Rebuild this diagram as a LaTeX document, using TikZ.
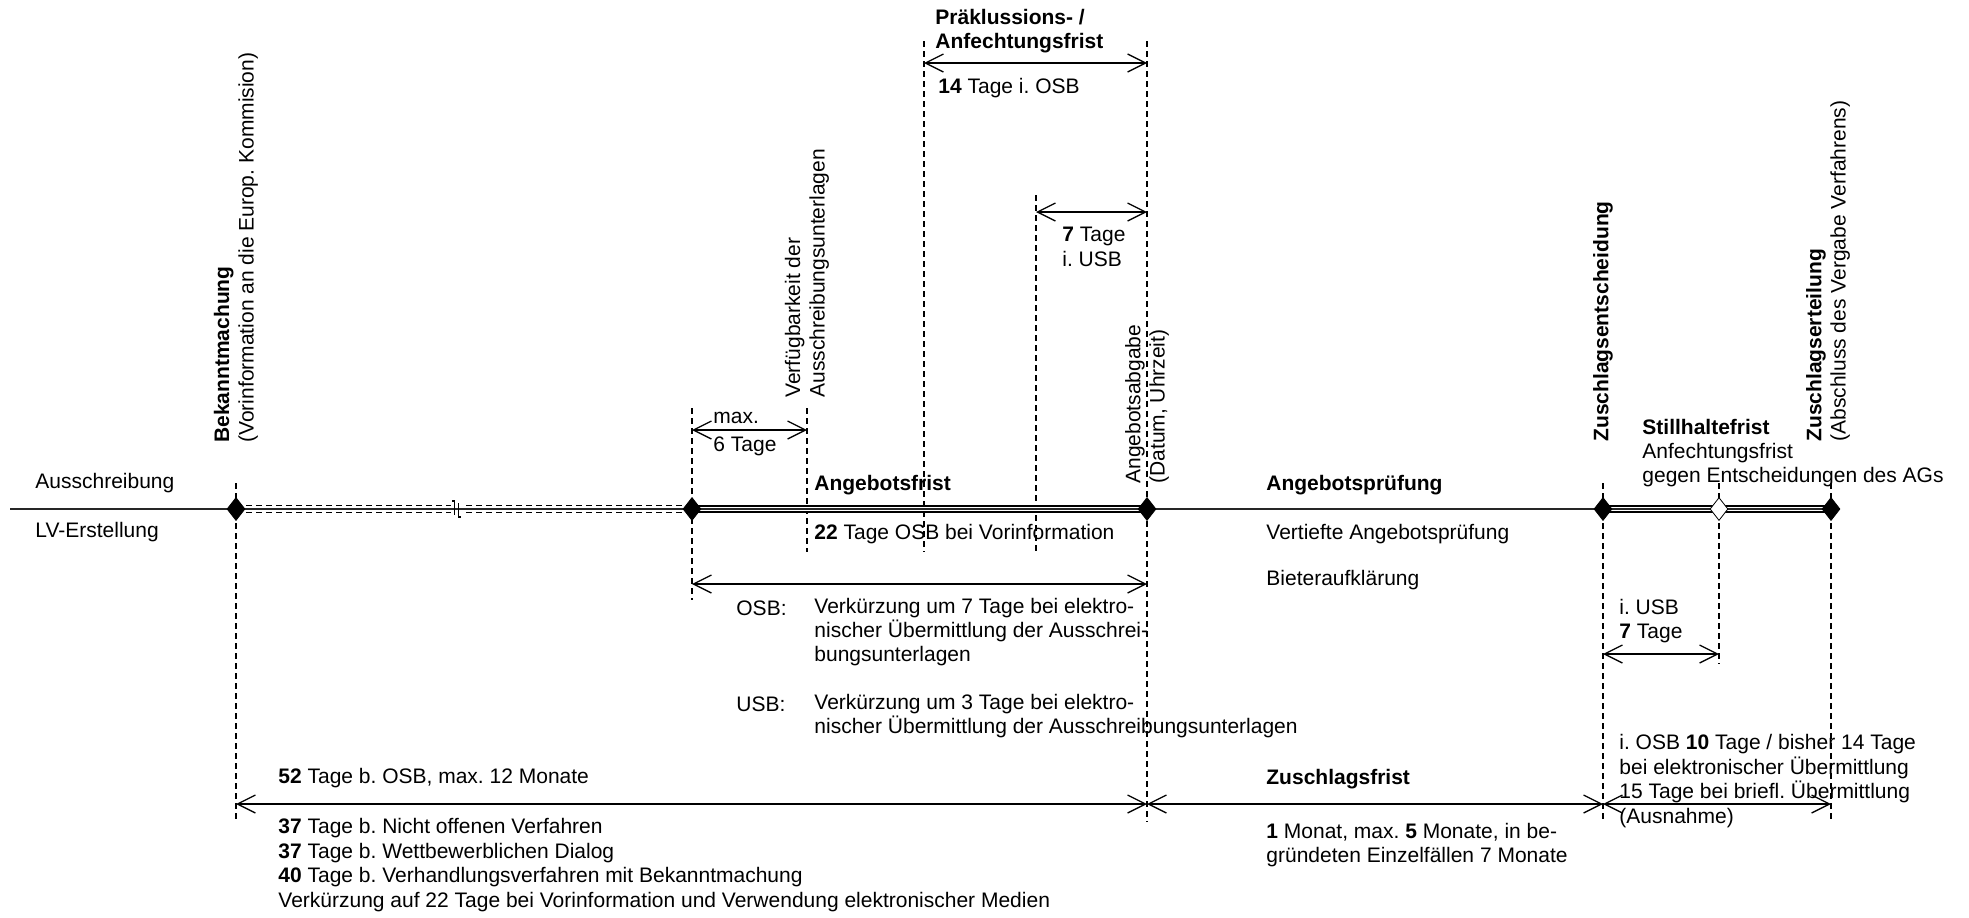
\documentclass[tikz,border=0pt]{standalone}
\usepackage{fontspec}
\setmainfont{Liberation Sans}
\usetikzlibrary{arrows.meta,shapes.geometric}
\frenchspacing

\begin{document}
\begin{tikzpicture}[x=0.5pt,y=0.5pt,font=\fontsize{10.5}{12.2}\selectfont]
  \newcommand{\Xbek}[0]{ 236 }
  \newcommand{\Xfrist}[0]{ 692 }
  \newcommand{\Xunterl}[0]{ 807 }
  \newcommand{\Xpraekl}[0]{ 924 }
  \newcommand{\Xusb}[0]{ 1036 }
  \newcommand{\Xabgabe}[0]{ 1147 }
  \newcommand{\Xentsch}[0]{ 1603 }
  \newcommand{\Xstill}[0]{ 1719 }
  \newcommand{\Xerteil}[0]{ 1831 }
  \newcommand{\Xpruef}[0]{ 1266 }
  \newcommand{\Ycenter}[0]{ -509 }
  
  \tikzstyle{axis}      = [line width=0.65pt,draw=black!85]
  \tikzstyle{guide}     = [line width=0.6pt,draw=black,dash pattern=on 3pt off 2pt]
  \tikzstyle{dedge}     = [line width=0.65pt,draw=black,<->,>={Straight Barb[length=9pt,width=9pt]}]
  \tikzstyle{fristbar}  = [line width=1pt,draw=black,double=white,double distance=2pt]
  \tikzstyle{milestone} = [
    diamond,
    draw=black,
    fill=black,
    inner sep=0pt,
    minimum width=9pt,
    minimum height=11.5pt,
  ]
  \tikzstyle{txt}  = [anchor=west,align=left,inner sep=0pt]
  \tikzstyle{vtxt} = [rotate=90,anchor=west,align=left,inner sep=0pt]
  
  % #1: prefix
  % #2: x position
  % #3: top
  % #4: bottom
  \newcommand{\buildGuide}[4]{
    \coordinate (#1 top) at (#2,-#3);
    \coordinate (#1 bot) at (#2,-#4);
    \draw[guide] (#1 top) -- (#1 bot);
  }
  
  % #1: prefix
  % #2: left x
  % #3: right x
  % #4: y
  \newcommand{\buildSpan}[4]{
    \coordinate (#1 a) at (#2,-#4);
    \coordinate (#1 b) at (#3,-#4);
    \draw[dedge] (#1 a) -- (#1 b);
  }
  
  \useasboundingbox (0,0) rectangle (1969,-917);
  
  % milestones
  \coordinate (start)  at (10,\Ycenter);
  \coordinate (bek)    at (\Xbek,\Ycenter);
  \coordinate (frist)  at (\Xfrist,\Ycenter);
  \coordinate (abgabe) at (\Xabgabe,\Ycenter);
  \coordinate (entsch) at (\Xentsch,\Ycenter);
  \coordinate (still)  at (\Xstill,\Ycenter);
  \coordinate (erteil) at (\Xerteil,\Ycenter);
  
  % guides
  \buildGuide{bek}{\Xbek}{483}{822}
  \buildGuide{frist}{\Xfrist}{408}{600}
  \buildGuide{unterl}{\Xunterl}{408}{552}
  \buildGuide{praekl}{\Xpraekl}{41}{552}
  \buildGuide{usb}{\Xusb}{195}{552}
  \buildGuide{abgabe}{\Xabgabe}{41}{822}
  \buildGuide{entsch}{\Xentsch}{483}{822}
  \buildGuide{still}{\Xstill}{483}{664}
  \buildGuide{erteil}{\Xerteil}{483}{819}
  
  % time bars
  \draw[guide] ([yshift=1.85pt]bek) -- ([yshift=1.85pt]frist);
  \draw[guide] ([yshift=-1.85pt]bek) -- ([yshift=-1.85pt]frist);
  \draw[fristbar] (frist) -- (abgabe);
  \draw[fristbar] (entsch) -- (erteil);
  \draw[axis] (start) -- (erteil);
  
  % break mark
  \fill[white] (451,-500) rectangle (462,-518);
  \draw[axis] (450,\Ycenter) -- (463,\Ycenter);
  \draw[line width=0.6pt] (452,-501) -- (454.5,-501) -- (454.5,-515);
  \draw[line width=0.6pt] (458.5,-503) -- (458.5,-517) -- (461,-517);
  
  \node[milestone] (bek m)    at (bek) {};
  \node[milestone] (frist m)  at (frist) {};
  \node[milestone] (abgabe m) at (abgabe) {};
  \node[milestone] (entsch m) at (entsch) {};
  \node[milestone,fill=white] (still m) at (still) {};
  \node[milestone] (erteil m) at (erteil) {};
  
  % spans
  \buildSpan{praekl}{\Xpraekl}{\Xabgabe}{63}
  \buildSpan{usb}{\Xusb}{\Xabgabe}{212}
  \buildSpan{unterl}{\Xfrist}{\Xunterl}{430}
  \buildSpan{verk}{\Xfrist}{\Xabgabe}{584}
  \buildSpan{still}{\Xentsch}{\Xstill}{654}
  \buildSpan{angebot}{\Xbek}{\Xabgabe}{804}
  \buildSpan{zuschlag}{\Xabgabe}{\Xentsch}{804}
  \buildSpan{erteil}{\Xentsch}{\Xerteil}{804}
  
  % vertical labels
  \node[vtxt] (bek txt)    at (\Xbek,-443) {\textbf{Bekanntmachung}\\(Vorinformation an die Europ. Kommision)};
  \node[vtxt] (unterl txt) at (\Xunterl,-398) {Verfügbarkeit der\\Ausschreibungsunterlagen};
  \node[vtxt] (abgabe txt) at (\Xabgabe,-484) {Angebotsabgabe\\(Datum, Uhrzeit)};
  \node[vtxt] (entsch txt) at (\Xentsch,-442) {\textbf{Zuschlagsentscheidung}};
  \node[vtxt] (erteil txt) at (1828,-442) {\textbf{Zuschlagserteilung}\\(Abschluss des Vergabe Verfahrens)};
  
  % phases
  \node[txt] (ausschr)  at (35,-483) {Ausschreibung};
  \node[txt] (lv)       at (35,-532) {LV-Erstellung};
  \node[txt] (praekl txt) at (935,-31) {\textbf{Präklussions- /}\\\textbf{Anfechtungsfrist}};
  \node[txt] (praekl tage) at (938,-88) {\textbf{14} Tage i. OSB};
  \node[txt] (usb tage) at (1062,-247) {\textbf{7} Tage\\i. USB};
  \node[txt] (max)      at (713,-418) {max.};
  \node[txt] (max tage) at (713,-446) {6 Tage};
  \node[txt] (frist txt) at (814,-485) {\textbf{Angebotsfrist}};
  \node[txt] (frist tage) at (814,-534) {\textbf{22} Tage OSB bei Vorinformation};
  \node[txt] (pruef)    at (\Xpruef,-485) {\textbf{Angebotsprüfung}};
  \node[txt] (vertieft) at (\Xpruef,-534) {Vertiefte Angebotsprüfung};
  \node[txt] (bieter)   at (\Xpruef,-580) {Bieteraufklärung};
  \node[txt] (still txt) at (1642,-453) {\textbf{Stillhaltefrist}\\Anfechtungsfrist\\gegen Entscheidungen des AGs};
  
  % reductions
  \node[txt] (osb)      at (736,-608) {OSB:};
  \node[txt] (osb txt)  at (814,-632) {Verkürzung um 7 Tage bei elektro-\\nischer Übermittlung der Ausschrei-\\bungsunterlagen};
  \node[txt] (usb)      at (736,-704) {USB:};
  \node[txt] (usb txt)  at (814,-716) {Verkürzung um 3 Tage bei elektro-\\nischer Übermittlung der Ausschreibungsunterlagen};
  \node[txt] (still tage) at (1619,-621) {i. USB\\\textbf{7} Tage};
  
  % deadlines
  \node[txt] (angebot txt) at (278,-778) {\textbf{52} Tage b. OSB, max. 12 Monate};
  \node[txt] (angebot more) at (278,-865) {\textbf{37} Tage b. Nicht offenen Verfahren\\\textbf{37} Tage b. Wettbewerblichen Dialog\\\textbf{40} Tage b. Verhandlungsverfahren mit Bekanntmachung\\Verkürzung auf 22 Tage bei Vorinformation und Verwendung elektronischer Medien};
  \node[txt] (zuschlag txt) at (\Xpruef,-779) {\textbf{Zuschlagsfrist}};
  \node[txt] (zuschlag tage) at (\Xpruef,-845) {\textbf{1} Monat, max. \textbf{5} Monate, in be-\\gründeten Einzelfällen 7 Monate};
  \node[txt] (erteil tage) at (1619,-781) {i. OSB \textbf{10} Tage / bisher 14 Tage\\bei elektronischer Übermittlung\\15 Tage bei briefl. Übermittlung\\(Ausnahme)};
\end{tikzpicture}
\end{document}
